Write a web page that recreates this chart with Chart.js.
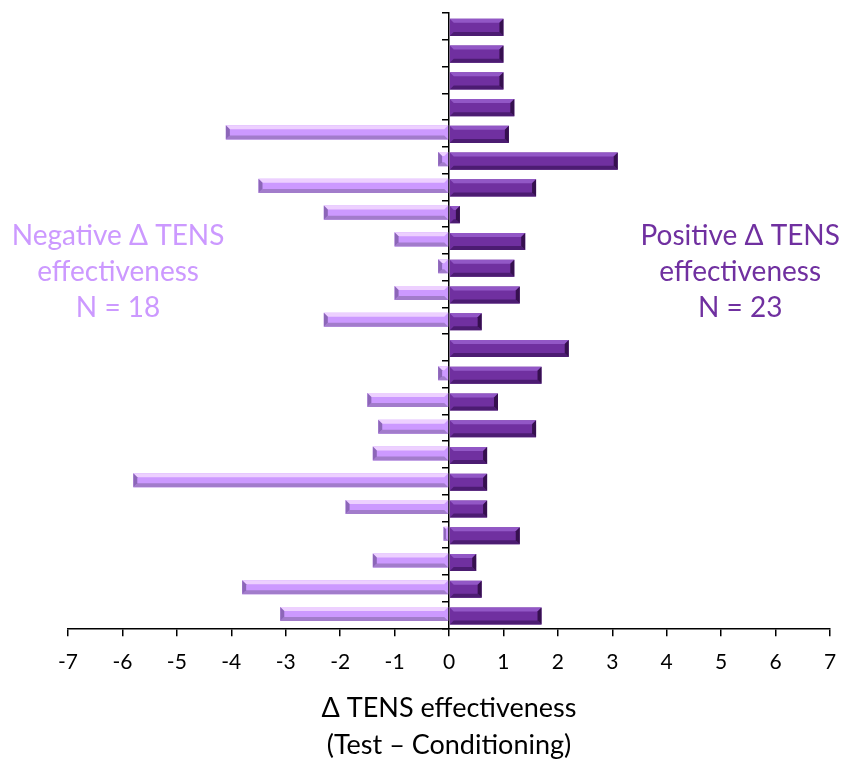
<!DOCTYPE html>
<html>
<head>
<meta charset="utf-8">
<script src="https://cdn.jsdelivr.net/npm/chart.js@4/dist/chart.umd.min.js"></script>
<style>
  html, body { margin: 0; padding: 0; background: #fff; }
  #wrap { width: 842px; height: 767px; }
</style>
</head>
<body>
<div id="wrap"><canvas id="tensChart"></canvas></div>
<script>
// one row per participant pair, top to bottom
const participants = ["1","2","3","4","5","6","7","8","9","10","11","12","13","14","15","16","17","18","19","20","21","22","23"];
const positiveDelta = [1.0, 1.0, 1.0, 1.2, 1.1, 3.1, 1.6, 0.2, 1.4, 1.2, 1.3, 0.6, 2.2, 1.7, 0.9, 1.6, 0.7, 0.7, 0.7, 1.3, 0.5, 0.6, 1.7];
const negativeDelta = [null, null, null, null, -4.1, -0.2, -3.5, -2.3, -1.0, -0.2, -1.0, -2.3, null, -0.2, -1.5, -1.3, -1.4, -5.8, -1.9, -0.1, -1.4, -3.8, -3.1];
const xTickRange = [-7, 7];
const axisTitle = ["\u0394 TENS effectiveness", "(Test \u2013 Conditioning)"];
const negLabel = ["Negative \u0394 TENS", "effectiveness", "N = 18"];
const posLabel = ["Positive \u0394 TENS", "effectiveness", "N = 23"];

const FONT = "Lato, 'Open Sans', sans-serif";
const DARK = { main: "#7030a0", top: "#9257c6", bottom: "#4c1c72", end: "#36104f" };
const LIGHT = { main: "#cc99ff", top: "#edd0ff", bottom: "#a27ccb", end: "#8c66b8" };

// Excel-style bevel drawn over each bar the library already painted
const bevelPlugin = {
  id: "bevel",
  afterDatasetsDraw(chart) {
    const ctx = chart.ctx;
    chart.data.datasets.forEach((ds, di) => {
      const pal = di === 0 ? LIGHT : DARK;
      chart.getDatasetMeta(di).data.forEach((bar, i) => {
        if (ds.data[i] == null) return;
        const p = bar.getProps(["x", "y", "base", "height"], true);
        const x0 = Math.min(p.x, p.base), x1 = Math.max(p.x, p.base);
        const y0 = p.y - p.height / 2, y1 = p.y + p.height / 2;
        const b = Math.min(4, (x1 - x0) / 2);
        const poly = (pts, c) => {
          ctx.beginPath();
          ctx.moveTo(pts[0][0], pts[0][1]);
          pts.slice(1).forEach(q => ctx.lineTo(q[0], q[1]));
          ctx.closePath();
          ctx.fillStyle = c;
          ctx.fill();
        };
        ctx.save();
        poly([[x0, y0], [x1, y0], [x1 - b, y0 + b], [x0 + b, y0 + b]], pal.top);
        poly([[x0, y1], [x1, y1], [x1 - b, y1 - b], [x0 + b, y1 - b]], pal.bottom);
        if (ds.data[i] > 0) {
          poly([[x1, y0], [x1, y1], [x1 - b, y1 - b], [x1 - b, y0 + b]], pal.end);
        } else {
          poly([[x0, y0], [x0, y1], [x0 + b, y1 - b], [x0 + b, y0 + b]], pal.end);
        }
        ctx.restore();
      });
    });
  }
};

const labelPlugin = {
  id: "sideLabels",
  afterDraw(chart) {
    const ctx = chart.ctx;
    const xs = chart.scales.x;
    ctx.save();
    ctx.font = "28px " + FONT;
    ctx.textAlign = "center";
    ctx.textBaseline = "middle";
    const draw = (lines, xv, color) => {
      ctx.fillStyle = color;
      lines.forEach((t, k) => ctx.fillText(t, xs.getPixelForValue(xv), 236 + k * 36));
    };
    draw(negLabel, -6.08, LIGHT.main);
    draw(posLabel, 5.35, DARK.main);
    ctx.restore();
  }
};

new Chart(document.getElementById("tensChart"), {
  type: "bar",
  data: {
    labels: participants,
    datasets: [
      { label: "Negative", data: negativeDelta, backgroundColor: LIGHT.main, categoryPercentage: 0.15, barPercentage: 7 },
      { label: "Positive", data: positiveDelta, backgroundColor: DARK.main, categoryPercentage: 0.15, barPercentage: 8.5 },
    ],
  },
  options: {
    indexAxis: "y",
    responsive: true,
    maintainAspectRatio: false,
    animation: false,
    layout: { padding: { left: 68, right: 0, top: 13, bottom: 3.5 } },
    plugins: { legend: { display: false }, tooltip: { enabled: false } },
    scales: {
      x: {
        min: xTickRange[0],
        max: xTickRange[1],
        afterFit: (scale) => { scale.paddingRight = 12; },
        ticks: { stepSize: 1, color: "#000", font: { family: FONT, size: 21 }, padding: 13 },
        grid: { drawOnChartArea: false, drawTicks: true, tickLength: 8, color: "#000", lineWidth: 1.5 },
        border: { color: "#000", width: 1.5 },
        title: { display: true, text: axisTitle, color: "#000", font: { family: FONT, size: 27, lineHeight: 1.37 }, padding: { top: 2, bottom: 0 } },
      },
      y: {
        position: { x: 0 },
        ticks: { display: false },
        grid: { drawOnChartArea: false, drawTicks: true, tickLength: 6, color: "#000", lineWidth: 1.5 },
        border: { color: "#000", width: 1.5 },
      },
    },
  },
  plugins: [bevelPlugin, labelPlugin],
});
</script>
</body>
</html>
